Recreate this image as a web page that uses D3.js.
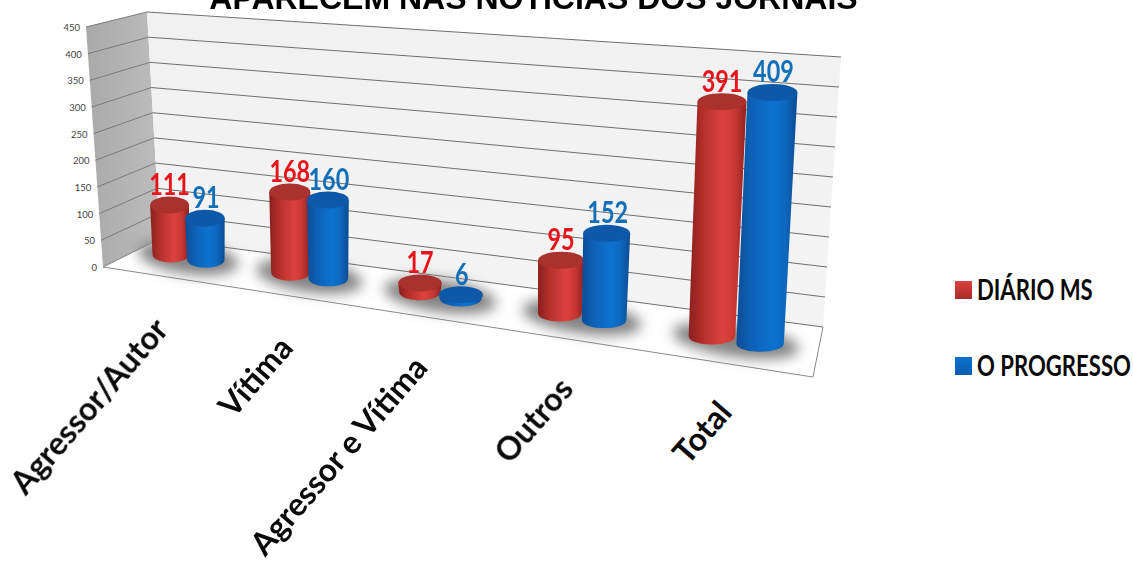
<!DOCTYPE html>
<html><head><meta charset="utf-8">
<script src="https://cdn.jsdelivr.net/npm/d3@7/dist/d3.min.js"></script>
<style>html,body{margin:0;padding:0;background:#fff;overflow:hidden}svg{display:block}</style>
</head><body><svg id="c" width="1133" height="567"></svg>
<script>
const categories = ["Agressor/Autor","Vítima","Agressor e Vítima","Outros","Total"];
const seriesNames = ["DIÁRIO MS","O PROGRESSO"];
const diarioMS = [111,168,17,95,391];
const oProgresso = [91,160,6,152,409];
const yTicks = [0,50,100,150,200,250,300,350,400,450];
const titleText = "APARECEM NAS NOTICIAS DOS JORNAIS";

const svg = d3.select("#c");
const defs = svg.append("defs");
const W = 1.222;
const persp = t => t/(t+(1-t)*W);
const catScale = d3.scaleLinear().domain([0,categories.length]).range([0,1]);
const midX = d3.scaleLinear().domain([0,1]).range([131,818]);
const midY = d3.scaleLinear().domain([0,1]).range([248,352]);
const unitPx = d3.scaleLinear().domain([0,1]).range([.43,.63]);
const lean = d3.scaleLinear().domain([100,830]).range([-.035,.058]);
const rxScale = d3.scaleLinear().domain([0,1]).range([19,25.5]);
const labelEndDx = d3.scaleLinear().domain([0,1]).range([-20,0]);

// walls
const backLY=d3.scaleLinear().domain([0,450]).range([238.6,12]), backLX=d3.scaleLinear().domain([0,450]).range([160,147]);
const backRY=d3.scaleLinear().domain([0,450]).range([327,57]), backRX=d3.scaleLinear().domain([0,450]).range([823,841]);
const frontY=d3.scaleLinear().domain([0,450]).range([267,27]), frontX=d3.scaleLinear().domain([0,450]).range([103,86]);

const sideG=defs.append("linearGradient").attr("id","side").attr("x1",0).attr("x2",1).attr("y1",0).attr("y2",0);
sideG.append("stop").attr("offset",0).attr("stop-color","#a9a9a9");
sideG.append("stop").attr("offset",1).attr("stop-color","#bdbdbd");
const backG=defs.append("linearGradient").attr("id","back").attr("x1",0).attr("x2",0).attr("y1",0).attr("y2",1);
backG.append("stop").attr("offset",0).attr("stop-color","#f1f1f1");
backG.append("stop").attr("offset",1).attr("stop-color","#f4f4f4");
defs.append("filter").attr("id","blur").attr("x","-40%").attr("y","-100%").attr("width","180%").attr("height","300%")
  .append("feGaussianBlur").attr("stdDeviation",6.5);
defs.append("filter").attr("id","soft").append("feGaussianBlur").attr("stdDeviation",.5);

const pts=a=>a.map(p=>p.join(",")).join(" ");
svg.append("polygon").attr("points",pts([[frontX(450),frontY(450)],[backLX(450),backLY(450)],[backLX(0),backLY(0)],[frontX(0),frontY(0)]])).attr("fill","url(#side)");
svg.append("polygon").attr("points",pts([[backLX(450),backLY(450)],[backRX(450),backRY(450)],[backRX(0),backRY(0)],[backLX(0),backLY(0)]])).attr("fill","url(#back)");
svg.append("polygon").attr("points",pts([[backLX(0),backLY(0)],[backRX(0),backRY(0)],[813,377],[103,267]])).attr("fill","#fff");

const grid=svg.append("g").attr("fill","none").attr("stroke-width",1).attr("filter","url(#soft)");
yTicks.forEach(v=>{
  grid.append("line").attr("x1",backLX(v)).attr("y1",backLY(v)).attr("x2",backRX(v)).attr("y2",backRY(v)).attr("stroke","#6f6f6f");
  grid.append("line").attr("x1",frontX(v)).attr("y1",frontY(v)).attr("x2",backLX(v)).attr("y2",backLY(v)).attr("stroke","#7a7a7a");
});
grid.append("polyline").attr("points",pts([[103,267],[813,377],[823,327]])).attr("stroke","#8a8a8a");

svg.append("g").selectAll("text").data(yTicks).join("text")
  .attr("x",v=>frontX(v)-6).attr("y",v=>frontY(v)+4)
  .attr("text-anchor","end").attr("font-family","Lato").attr("font-size",9.5).attr("fill","#444").text(v=>v);

// cylinders
const bars=[];
categories.forEach((c,i)=>{
  bars.push({s:0,i,v:diarioMS[i],u:i+.5-.15});
  bars.push({s:1,i,v:oProgresso[i],u:i+.5+.15});
});
bars.forEach(b=>{
  const f=persp(catScale(b.u));
  b.x0=midX(f); b.y0=midY(f);
  const h=b.v*unitPx(f);
  b.x1=b.x0+lean(b.x0)*h; b.y1=b.y0-h;
  b.rx1=rxScale(f); b.rx0=b.rx1*.95;
});
const ry=8.5;
const fills=[["#8a201e","#b52f2c","#dc423e","#c93733","#8e2220"],["#0a4c96","#0b62b6","#0b72d0","#0a68bf","#0a4a92"]];
const tops=["#a9302d","#0b59a8"], labelCol=["#e8141c","#1370b8"];
fills.forEach((stops,s)=>{
  const g=defs.append("linearGradient").attr("id","cyl"+s);
  [0,.25,.6,.8,1].forEach((o,k)=>g.append("stop").attr("offset",o).attr("stop-color",stops[k]));
});

// shadows, one per group
const shadow=svg.append("g").attr("filter","url(#blur)");
categories.forEach((c,i)=>{
  const gb=bars.filter(b=>b.i===i);
  const x=d3.mean(gb,b=>b.x0), y=d3.mean(gb,b=>b.y0);
  shadow.append("ellipse").attr("cx",x).attr("cy",y+1).attr("rx",gb[0].rx1*2.6).attr("ry",ry*1.9)
    .attr("fill","#828282").attr("transform",`rotate(8 ${x} ${y})`);
});

const gc=svg.append("g").attr("filter","url(#soft)");
bars.forEach(b=>{
  const path=d3.path();
  path.moveTo(b.x1-b.rx1,b.y1);
  path.lineTo(b.x0-b.rx0,b.y0);
  path.bezierCurveTo(b.x0-b.rx0,b.y0+ry*1.33,b.x0+b.rx0,b.y0+ry*1.33,b.x0+b.rx0,b.y0);
  path.lineTo(b.x1+b.rx1,b.y1);
  path.closePath();
  gc.append("path").attr("d",path.toString()).attr("fill",`url(#cyl${b.s})`);
  gc.append("ellipse").attr("cx",b.x1).attr("cy",b.y1).attr("rx",b.rx1).attr("ry",ry).attr("fill",tops[b.s]);
});

// value labels
bars.forEach(b=>{
  svg.append("text").attr("transform",`translate(${b.x1+(b.s?1:0)},${b.y1-10}) scale(.78,1)`)
    .attr("text-anchor","middle").attr("font-family","Lato").attr("font-weight",700).attr("font-size",30)
    .attr("fill",labelCol[b.s]).text(b.v);
});

// category labels
categories.forEach((c,i)=>{
  const f=persp(catScale(i+.5));
  const ex=midX(f)+labelEndDx(f), ey=midY(f)+74;
  svg.append("text").attr("transform",`translate(${ex},${ey}) rotate(-49)`)
    .attr("text-anchor","end").attr("font-family","Lato").attr("font-weight",700).attr("font-size",32)
    .attr("fill","#0a0a0a").text(c);
});

// title
svg.append("text").attr("x",533.5).attr("y",8.5).attr("text-anchor","middle").attr("font-family","Liberation Sans")
  .attr("font-weight",700).attr("font-size",32).attr("fill","#000").text(titleText);

// legend
const legY=[290,366];
const legG=[["#d9423e","#a92c2a"],["#0b72d0","#0a5cae"]];
seriesNames.forEach((n,s)=>{
  const g=defs.append("linearGradient").attr("id","leg"+s).attr("x1",0).attr("x2",0).attr("y1",0).attr("y2",1);
  g.append("stop").attr("offset",0).attr("stop-color",legG[s][0]);
  g.append("stop").attr("offset",1).attr("stop-color",legG[s][1]);
  svg.append("rect").attr("x",955).attr("y",legY[s]-9).attr("width",17).attr("height",18).attr("fill",`url(#leg${s})`);
  svg.append("text").attr("transform",`translate(977,${legY[s]+9.5}) scale(.79,1)`).attr("font-family","Lato").attr("font-weight",700)
    .attr("font-size",28).attr("fill","#0a0a0a").text(n);
});
</script></body></html>
